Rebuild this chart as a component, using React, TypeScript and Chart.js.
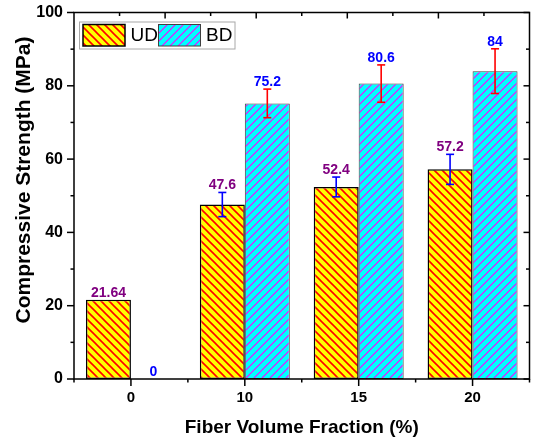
import React, { useEffect, useRef } from 'react';
import { Chart, registerables } from 'chart.js';

Chart.register(...registerables);

const categories = ['0', '10', '15', '20'];
const udValues = [21.64, 47.6, 52.4, 57.2];
const bdValues = [0, 75.2, 80.6, 84];
const udErrors = [0, 3.3, 2.7, 4.1];
const bdErrors = [0, 3.9, 5.1, 6.1];
const seriesNames = ['UD', 'BD'];
const yMin = 0;
const yMax = 100;
const yStep = 20;
const topMajorTicks = [0.2, 0.4, 0.6, 0.8];
const topMinorTicks = [0.1, 0.3, 0.5, 0.7, 0.9];
const xTitle = 'Fiber Volume Fraction (%)';
const yTitle = 'Compressive Strength (MPa)';

const FONT = "'Liberation Sans', Arial, sans-serif";

function makePattern(ctx: CanvasRenderingContext2D, bg: string, fg: string, lw: number, dir: 'back' | 'fwd') {
  const s = 8;
  const c = document.createElement('canvas');
  c.width = s;
  c.height = s;
  const g = c.getContext('2d')!;
  g.fillStyle = bg;
  g.fillRect(0, 0, s, s);
  g.strokeStyle = fg;
  g.lineWidth = lw;
  g.beginPath();
  if (dir === 'back') {
    g.moveTo(-2, -2); g.lineTo(s + 2, s + 2);
    g.moveTo(-2, s - 2); g.lineTo(2, s + 2);
    g.moveTo(s - 2, -2); g.lineTo(s + 2, 2);
  } else {
    g.moveTo(-2, s + 2); g.lineTo(s + 2, -2);
    g.moveTo(-2, 2); g.lineTo(2, -2);
    g.moveTo(s - 2, s + 2); g.lineTo(s + 2, s - 2);
  }
  g.stroke();
  return ctx.createPattern(c, 'repeat')!;
}

function line(ctx: CanvasRenderingContext2D, x1: number, y1: number, x2: number, y2: number) {
  ctx.beginPath();
  ctx.moveTo(x1, y1);
  ctx.lineTo(x2, y2);
  ctx.stroke();
}

const decorPlugin = {
  id: 'decor',
  afterDatasetsDraw(chart: any) {
    const { ctx, chartArea: a, scales } = chart;
    const x = scales.x;
    const y = scales.y;
    const errs = [udErrors, bdErrors];
    const errColors = ['#0000ff', '#ff0000'];
    const labelColors = ['#800080', '#0000ff'];
    ctx.save();

    // frame
    ctx.strokeStyle = '#000';
    ctx.lineWidth = 1.5;
    ctx.strokeRect(a.left, a.top, a.right - a.left, a.bottom - a.top);

    // y ticks (left outward, right inward)
    for (let v = yMin; v <= yMax; v += yStep / 2) {
      const py = y.getPixelForValue(v);
      const major = v % yStep === 0;
      line(ctx, a.left - (major ? 7 : 3.5), py, a.left, py);
      line(ctx, a.right, py, a.right - (major ? 6 : 3.5), py);
    }
    // bottom ticks
    categories.forEach((_, i) => {
      const px = x.getPixelForValue(i);
      line(ctx, px, a.bottom, px, a.bottom + 7);
    });
    for (let i = 0; i <= categories.length; i++) {
      const px = x.getPixelForValue(i - 0.5);
      line(ctx, px, a.bottom, px, a.bottom + 3.5);
    }
    // top ticks
    topMajorTicks.forEach((f) => {
      const px = a.left + f * (a.right - a.left);
      line(ctx, px, a.top, px, a.top + 6);
    });
    topMinorTicks.forEach((f) => {
      const px = a.left + f * (a.right - a.left);
      line(ctx, px, a.top, px, a.top + 3.5);
    });

    // error bars and value labels
    chart.data.datasets.forEach((ds: any, di: number) => {
      const meta = chart.getDatasetMeta(di);
      meta.data.forEach((bar: any, i: number) => {
        const v = ds.data[i] as number;
        const e = errs[di][i];
        const cx = bar.x;
        const top = y.getPixelForValue(v + e);
        const bot = y.getPixelForValue(v - e);
        if (e > 0) {
          ctx.strokeStyle = errColors[di];
          ctx.lineWidth = 1.6;
          line(ctx, cx, top, cx, bot);
          line(ctx, cx - 4, top, cx + 4, top);
          line(ctx, cx - 4, bot, cx + 4, bot);
        }
        ctx.fillStyle = labelColors[di];
        ctx.font = `bold 14px ${FONT}`;
        ctx.textAlign = 'center';
        ctx.textBaseline = 'alphabetic';
        ctx.fillText(String(v), cx, top - 3);
      });
    });

    // legend
    const lx = a.left + 5.5;
    const ly = a.top + 9.5;
    ctx.fillStyle = '#fff';
    ctx.fillRect(lx, ly, 155.5, 27);
    ctx.strokeStyle = '#a8a8a8';
    ctx.lineWidth = 1;
    ctx.strokeRect(lx, ly, 155.5, 27);
    const swX = [lx + 3.5, lx + 79];
    const txX = [lx + 51, lx + 126.5];
    chart.data.datasets.forEach((ds: any, di: number) => {
      ctx.fillStyle = ds.backgroundColor;
      ctx.fillRect(swX[di], ly + 2.5, 42, 21.5);
      ctx.strokeStyle = ds.borderColor;
      ctx.lineWidth = ds.borderWidth;
      ctx.strokeRect(swX[di], ly + 2.5, 42, 21.5);
      ctx.fillStyle = '#000';
      ctx.font = `19px ${FONT}`;
      ctx.textAlign = 'left';
      ctx.textBaseline = 'middle';
      ctx.fillText(ds.label, txX[di], ly + 14);
    });

    // axis titles
    ctx.fillStyle = '#000';
    ctx.font = `bold 19px ${FONT}`;
    ctx.textAlign = 'center';
    ctx.textBaseline = 'middle';
    ctx.fillText(xTitle, (a.left + a.right) / 2, 428);
    ctx.save();
    ctx.translate(24, 180);
    ctx.rotate(-Math.PI / 2);
    ctx.font = `bold 21px ${FONT}`;
    ctx.fillText(yTitle, 0, 0);
    ctx.restore();

    ctx.restore();
  },
};

export default function App() {
  const canvasRef = useRef<HTMLCanvasElement | null>(null);

  useEffect(() => {
    document.body.style.margin = '0';
    const canvas = canvasRef.current!;
    const ctx = canvas.getContext('2d')!;
    const udPattern = makePattern(ctx, '#ffff00', '#ff0000', 1.6, 'back');
    const bdPattern = makePattern(ctx, '#00ffff', '#ff00ff', 1.1, 'fwd');

    const chart = new Chart(ctx, {
      type: 'bar',
      data: {
        labels: categories,
        datasets: [
          {
            label: seriesNames[0],
            data: udValues,
            backgroundColor: udPattern as any,
            borderColor: '#000000',
            borderWidth: 1.5,
            borderSkipped: false,
            categoryPercentage: 0.79,
            barPercentage: 1.0,
          },
          {
            label: seriesNames[1],
            data: bdValues,
            backgroundColor: bdPattern as any,
            borderColor: '#404040',
            borderWidth: 1,
            borderSkipped: false,
            categoryPercentage: 0.79,
            barPercentage: 1.0,
          },
        ],
      },
      options: {
        responsive: false,
        animation: false,
        devicePixelRatio: 1,
        layout: { padding: { top: 12.5, right: 4.5, left: 0, bottom: 0 } },
        plugins: {
          legend: { display: false },
          tooltip: { enabled: false },
        },
        scales: {
          x: {
            grid: { display: false, drawTicks: false },
            border: { display: false },
            ticks: {
              color: '#000',
              padding: 10,
              font: { family: FONT, size: 15, weight: 'bold' },
            },
            afterFit: (s: any) => {
              s.height = 65;
              s.paddingLeft = 0;
              s.paddingRight = 0;
            },
          },
          y: {
            min: yMin,
            max: yMax,
            grid: { display: false, drawTicks: false },
            border: { display: false },
            ticks: {
              stepSize: yStep,
              color: '#000',
              padding: 11,
              font: { family: FONT, size: 16, weight: 'bold' },
            },
            afterFit: (s: any) => {
              s.width = 74;
              s.paddingTop = 0;
              s.paddingBottom = 0;
            },
          },
        },
      },
      plugins: [decorPlugin],
    });
    return () => chart.destroy();
  }, []);

  return (
    <div style={{ width: 534, height: 444 }}>
      <canvas ref={canvasRef} width={534} height={444} style={{ display: 'block' }} />
    </div>
  );
}
